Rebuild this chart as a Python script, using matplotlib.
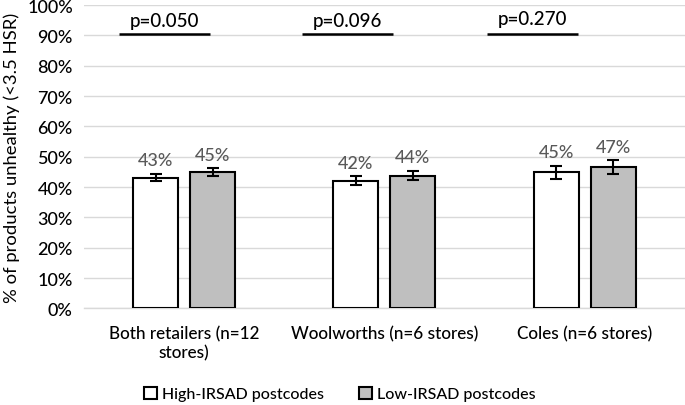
import matplotlib
matplotlib.use('Agg')
import matplotlib.pyplot as plt
from matplotlib.ticker import PercentFormatter
import numpy as np

plt.rcParams['font.family'] = ['Lato', 'DejaVu Sans']
plt.rcParams['font.weight'] = 'medium'

# data
categories = ['Both retailers (n=12\nstores)', 'Woolworths (n=6 stores)', 'Coles (n=6 stores)']
high_irsad = [43.1, 42.1, 44.9]
low_irsad = [44.9, 43.8, 46.6]
high_err = [1.25, 1.5, 2.2]
low_err = [1.3, 1.6, 2.3]
p_values = ['p=0.050', 'p=0.096', 'p=0.270']
# p-value bracket lines (x start, x end in category units)
p_line_start = [-0.324, 0.588, 1.515]
p_line_end = [0.129, 1.041, 1.968]
p_line_y = 90.4
p_text_y = [94.8, 94.8, 95.6]

fig = plt.figure(figsize=(6.85, 4.06), dpi=100)
ax = fig.add_axes([0.1226, 0.238, 0.877, 0.747])

x = np.arange(len(categories))
w = 0.225
off = 0.142

ax.bar(x - off, high_irsad, w, color='white', edgecolor='black', linewidth=1.5,
       label='High-IRSAD postcodes', zorder=3)
ax.bar(x + off, low_irsad, w, color='#BFBFBF', edgecolor='black', linewidth=1.5,
       label='Low-IRSAD postcodes', zorder=3)
ax.errorbar(x - off, high_irsad, yerr=high_err, fmt='none', ecolor='black',
            elinewidth=1.5, capsize=4, capthick=1.5, zorder=4)
ax.errorbar(x + off, low_irsad, yerr=low_err, fmt='none', ecolor='black',
            elinewidth=1.5, capsize=4, capthick=1.5, zorder=4)

# data labels
for xi, v, e in zip(x - off, high_irsad, high_err):
    ax.annotate(f'{v:.0f}%', (xi, v + e), xytext=(0, 4), textcoords='offset points',
                ha='center', va='bottom', fontsize=13, color='#595959')
for xi, v, e in zip(x + off, low_irsad, low_err):
    ax.annotate(f'{v:.0f}%', (xi, v + e), xytext=(0, 4), textcoords='offset points',
                ha='center', va='bottom', fontsize=13, color='#595959')

# p-values
for s, e, t, ty in zip(p_line_start, p_line_end, p_values, p_text_y):
    ax.plot([s, e], [p_line_y, p_line_y], color='black', linewidth=1.8, zorder=4,
            solid_capstyle='butt')
    ax.text((s + e) / 2, ty, t, ha='center', va='center', fontsize=13.5, color='black')

ax.set_xlim(-0.5, 2.5)
ax.set_ylim(0, 100)
ax.set_yticks(np.arange(0, 101, 10))
ax.yaxis.set_major_formatter(PercentFormatter(decimals=0))
ax.set_xticks(x)
ax.set_xticklabels(categories, fontsize=12.3)
ax.tick_params(axis='both', length=0, colors='black')
ax.tick_params(axis='y', labelsize=13, pad=8)
ax.tick_params(axis='x', pad=12)
ax.grid(axis='y', color='#D9D9D9', linewidth=1, zorder=0)
for sp in ['top', 'right', 'left']:
    ax.spines[sp].set_visible(False)
ax.spines['bottom'].set_color('#D9D9D9')
ax.spines['bottom'].set_linewidth(1)

ax.set_ylabel('% of products unhealthy (<3.5 HSR)', fontsize=13.3, labelpad=5)

fig.legend(loc='center', bbox_to_anchor=(0.496, 0.027), ncol=2, frameon=False,
           fontsize=11.5, handlelength=0.8, handleheight=0.8, handletextpad=0.3,
           columnspacing=2.2)

fig.savefig('out.png', dpi=100, facecolor='white')
